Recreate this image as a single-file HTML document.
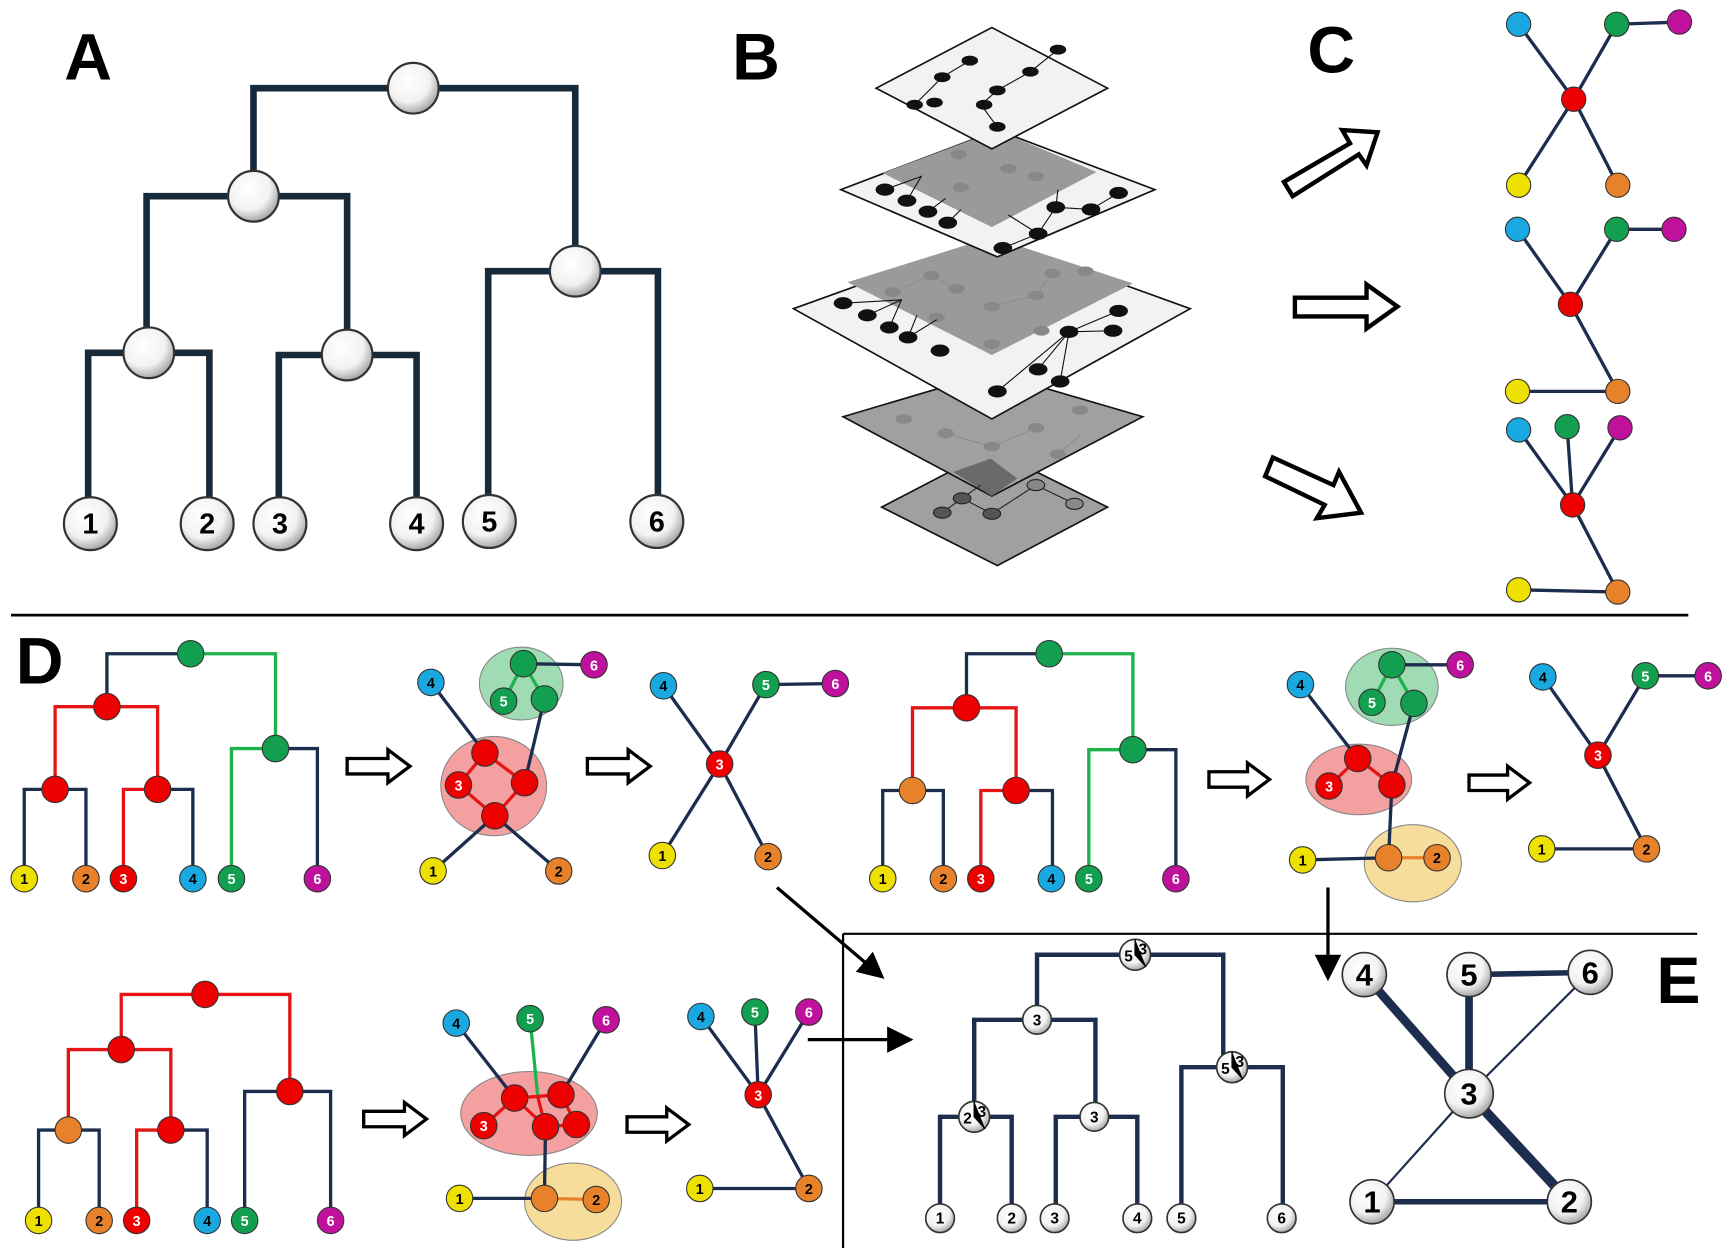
<!DOCTYPE html>
<html><head><meta charset="utf-8"><style>
html,body{margin:0;padding:0;background:#fff;width:1728px;height:1248px;overflow:hidden}
svg{display:block}
text{font-family:"Liberation Sans",sans-serif;font-weight:bold;text-anchor:middle}
</style></head><body>
<svg width="1728" height="1248" viewBox="0 0 1568 1132" preserveAspectRatio="none" xmlns="http://www.w3.org/2000/svg">
<defs>
<radialGradient id="w" cx="0.4" cy="0.35" r="0.7"><stop offset="0" stop-color="#fff"/><stop offset="0.6" stop-color="#f2f2f2"/><stop offset="1" stop-color="#9a9a9a"/></radialGradient>
<marker id="ah" markerWidth="8" markerHeight="8" refX="6" refY="4" orient="auto" markerUnits="strokeWidth"><path d="M0,0 L8,4 L0,8 Z" fill="#000"/></marker>
</defs>

<!-- Panel A -->
<g fill="none" stroke="#172a3a" stroke-width="6">
<path d="M230,178 V80 H522 V246"/>
<path d="M133,320 V178 H315 V322"/>
<path d="M80,475 V320 H190 V475"/>
<path d="M253,475 V322 H378 V475"/>
<path d="M443,473 V246 H597 V473"/>
</g>
<g stroke="#333" stroke-width="2" fill="url(#w)">
<circle cx="375" cy="80" r="23"/><circle cx="230" cy="178" r="23"/><circle cx="135" cy="320" r="23"/><circle cx="315" cy="322" r="23"/><circle cx="522" cy="246" r="23"/>
<circle cx="82" cy="475" r="24"/><circle cx="188" cy="475" r="24"/><circle cx="254" cy="475" r="24"/><circle cx="378" cy="475" r="24"/><circle cx="444" cy="473" r="24"/><circle cx="596" cy="473" r="24"/>
</g>
<g font-size="26" fill="#000">
<text x="82" y="484">1</text><text x="188" y="484">2</text><text x="254" y="484">3</text><text x="378" y="484">4</text><text x="444" y="482">5</text><text x="596" y="482">6</text>
</g>
<g font-size="60" fill="#000"><text x="80" y="72">A</text><text x="686" y="72">B</text><text x="1208" y="66">C</text><text x="36" y="620">D</text><text x="1523" y="910">E</text></g>

<!-- Panel B -->
<g stroke="#111" stroke-width="1.5">
<polygon points="800,460 900,408 1005,460 905,513" fill="#a0a0a0"/>
<polygon points="765,378 900,338 1037,378 900,450" fill="#a0a0a0"/>
<polygon points="865,428 899,416 923,434 900,450" fill="#6a6a6a" stroke="none"/>
<polygon points="720,280 900,215 1080,280 900,380" fill="#f2f2f2"/>
<polygon points="769,256 900,215 1028,257 900,322" fill="#9a9a9a" stroke="none"/>
<polygon points="763,172 905,118 1048,172 905,233" fill="#f2f2f2"/>
<polygon points="801,157 905,118 995,156 900,206" fill="#9a9a9a" stroke="none"/>
<polygon points="795,80 900,25 1005,80 900,135" fill="#f2f2f2"/>
</g>
<g fill="#888" stroke="#888" stroke-width="0.8">
<ellipse cx="870" cy="140" rx="7" ry="4"/><ellipse cx="915" cy="153" rx="7" ry="4"/><ellipse cx="872" cy="170" rx="7" ry="4"/><ellipse cx="940" cy="160" rx="7" ry="4"/>
<ellipse cx="810" cy="265" rx="7" ry="4"/><ellipse cx="845" cy="250" rx="7" ry="4"/><ellipse cx="868" cy="262" rx="7" ry="4"/><ellipse cx="900" cy="278" rx="7" ry="4"/><ellipse cx="940" cy="268" rx="7" ry="4"/><ellipse cx="955" cy="248" rx="7" ry="4"/><ellipse cx="985" cy="246" rx="7" ry="4"/><ellipse cx="850" cy="288" rx="7" ry="4"/><ellipse cx="900" cy="312" rx="7" ry="4"/><ellipse cx="945" cy="300" rx="7" ry="4"/>
<ellipse cx="820" cy="380" rx="7" ry="4"/><ellipse cx="858" cy="393" rx="7" ry="4"/><ellipse cx="900" cy="405" rx="7" ry="4"/><ellipse cx="940" cy="388" rx="7" ry="4"/><ellipse cx="980" cy="372" rx="7" ry="4"/><ellipse cx="960" cy="412" rx="7" ry="4"/>
<path d="M810,265 L845,250 L868,262 M900,278 L940,268 L955,248 M858,393 L900,405 L940,388 M960,412 L980,395" fill="none"/>
</g>
<g fill="#111" stroke="#111" stroke-width="1">
<path d="M830,95 L855,70 L880,55 M905,82 L935,65 M905,82 L890,95 L905,115 M935,65 L960,45" fill="none"/>
<ellipse cx="830" cy="95" rx="7" ry="4"/><ellipse cx="855" cy="70" rx="7" ry="4"/><ellipse cx="880" cy="55" rx="7" ry="4"/><ellipse cx="905" cy="82" rx="7" ry="4"/><ellipse cx="935" cy="65" rx="7" ry="4"/><ellipse cx="960" cy="45" rx="7" ry="4"/><ellipse cx="848" cy="93" rx="7" ry="4"/><ellipse cx="893" cy="95" rx="7" ry="4"/><ellipse cx="905" cy="115" rx="7" ry="4"/>
<ellipse cx="803" cy="172" rx="8" ry="5"/><ellipse cx="823" cy="182" rx="8" ry="5"/><ellipse cx="842" cy="192" rx="8" ry="5"/><ellipse cx="860" cy="202" rx="8" ry="5"/><ellipse cx="910" cy="225" rx="8" ry="5"/><ellipse cx="942" cy="212" rx="8" ry="5"/><ellipse cx="958" cy="188" rx="8" ry="5"/><ellipse cx="990" cy="190" rx="8" ry="5"/><ellipse cx="1015" cy="175" rx="8" ry="5"/>
<path d="M803,172 L836,160 L823,182 M842,192 L858,180 M860,202 L872,190 M910,225 L942,212 L958,188 L990,190 L1015,175 M958,188 L960,172 M942,212 L915,195" fill="none"/>
<ellipse cx="765" cy="275" rx="8" ry="5"/><ellipse cx="787" cy="286" rx="8" ry="5"/><ellipse cx="807" cy="297" rx="8" ry="5"/><ellipse cx="824" cy="306" rx="8" ry="5"/><ellipse cx="853" cy="318" rx="8" ry="5"/><ellipse cx="905" cy="355" rx="8" ry="5"/><ellipse cx="942" cy="335" rx="8" ry="5"/><ellipse cx="970" cy="301" rx="8" ry="5"/><ellipse cx="1010" cy="300" rx="8" ry="5"/><ellipse cx="962" cy="346" rx="8" ry="5"/><ellipse cx="1015" cy="282" rx="8" ry="5"/>
<path d="M765,275 L818,272 L807,297 M787,286 L818,272 M824,306 L850,290 M824,306 L832,286 M942,335 L970,301 L1015,282 M970,301 L1010,300 M905,355 L970,301 L962,346" fill="none"/>
</g>
<g fill="#555" stroke="#222" stroke-width="1">
<path d="M855,465 L873,452 L900,466 L940,440 L975,457 M873,452 L890,440" fill="none"/>
<ellipse cx="855" cy="465" rx="8" ry="5"/><ellipse cx="873" cy="452" rx="8" ry="5"/><ellipse cx="900" cy="466" rx="8" ry="5"/><ellipse cx="940" cy="440" rx="8" ry="5" fill="#888"/><ellipse cx="975" cy="457" rx="8" ry="5" fill="#888"/>
</g>

<!-- Panel C arrows -->
<g fill="#fff" stroke="#000" stroke-width="4" stroke-linejoin="miter">
<polygon points="1165,165 1225,130 1218,118 1250,120 1240,150 1233,140 1173,178" />
<polygon points="1175,270 1240,270 1240,258 1268,278 1240,298 1240,287 1175,287"/>
<polygon points="1155,415 1210,440 1215,428 1235,465 1195,470 1202,458 1148,432"/>
</g>
<g stroke="#1c2d4e" stroke-width="3" fill="none">
<path d="M1378,22 L1428,90 L1467,22 L1524,20 M1378,168 L1428,90 L1468,168"/>
<path d="M1377,208 L1425,276 L1467,208 L1519,208 M1425,276 L1468,355 L1377,355"/>
<path d="M1378,390 L1427,458 L1422,387 M1470,388 L1427,458 L1468,537 L1378,535"/>
</g>
<g stroke="#333" stroke-width="1">
<circle cx="1428" cy="90" r="11" fill="#e00"/><circle cx="1378" cy="22" r="11" fill="#19a8e0"/><circle cx="1467" cy="22" r="11" fill="#12a050"/><circle cx="1524" cy="20" r="11" fill="#c0119c"/><circle cx="1378" cy="168" r="11" fill="#eee000"/><circle cx="1468" cy="168" r="11" fill="#e8822a"/>
<circle cx="1425" cy="276" r="11" fill="#e00"/><circle cx="1377" cy="208" r="11" fill="#19a8e0"/><circle cx="1467" cy="208" r="11" fill="#12a050"/><circle cx="1519" cy="208" r="11" fill="#c0119c"/><circle cx="1377" cy="355" r="11" fill="#eee000"/><circle cx="1468" cy="355" r="11" fill="#e8822a"/>
<circle cx="1427" cy="458" r="11" fill="#e00"/><circle cx="1378" cy="390" r="11" fill="#19a8e0"/><circle cx="1422" cy="387" r="11" fill="#12a050"/><circle cx="1470" cy="388" r="11" fill="#c0119c"/><circle cx="1378" cy="535" r="11" fill="#eee000"/><circle cx="1468" cy="537" r="11" fill="#e8822a"/>
</g>

<line x1="10" y1="558" x2="1532" y2="558" stroke="#000" stroke-width="2.5"/>

<!-- D1 tree -->
<g fill="none" stroke-width="3">
<path d="M97,641 V593 H173" stroke="#1c2d4e"/><path d="M173,593 H250 V679" stroke="#1db34a"/>
<path d="M50,716 V641 H143 V716" stroke="#e51515"/>
<path d="M22,797 V716 H78 V797" stroke="#1c2d4e"/>
<path d="M112,797 V716 H143" stroke="#e51515"/><path d="M143,716 H175 V797" stroke="#1c2d4e"/>
<path d="M210,797 V679 H250" stroke="#1db34a"/><path d="M250,679 H288 V797" stroke="#1c2d4e"/>
</g>
<!-- D2 tree -->
<g fill="none" stroke-width="3">
<path d="M877,642 V593 H952" stroke="#1c2d4e"/><path d="M952,593 H1028 V680" stroke="#1db34a"/>
<path d="M828,717 V642 H922 V717" stroke="#e51515"/>
<path d="M801,797 V717 H856 V797" stroke="#1c2d4e"/>
<path d="M890,797 V717 H922" stroke="#e51515"/><path d="M922,717 H955 V797" stroke="#1c2d4e"/>
<path d="M988,797 V680 H1028" stroke="#1db34a"/><path d="M1028,680 H1067 V797" stroke="#1c2d4e"/>
</g>
<!-- D3 tree -->
<g fill="none" stroke-width="3">
<path d="M110,952 V902 H263 V990" stroke="#e51515"/>
<path d="M62,1025 V952 H155 V1025" stroke="#e51515"/>
<path d="M35,1107 V1025 H90 V1107" stroke="#1c2d4e"/>
<path d="M124,1107 V1025 H155" stroke="#e51515"/><path d="M155,1025 H188 V1107" stroke="#1c2d4e"/>
<path d="M222,1107 V990 H300 V1107" stroke="#1c2d4e"/>
</g>
<g stroke="#333" stroke-width="1">
<circle cx="173" cy="593" r="12" fill="#12a050"/><circle cx="97" cy="641" r="12" fill="#e00"/><circle cx="50" cy="716" r="12" fill="#e00"/><circle cx="143" cy="716" r="12" fill="#e00"/><circle cx="250" cy="679" r="12" fill="#12a050"/>
<circle cx="952" cy="593" r="12" fill="#12a050"/><circle cx="877" cy="642" r="12" fill="#e00"/><circle cx="828" cy="717" r="12" fill="#e8822a"/><circle cx="922" cy="717" r="12" fill="#e00"/><circle cx="1028" cy="680" r="12" fill="#12a050"/>
<circle cx="186" cy="902" r="12" fill="#e00"/><circle cx="110" cy="952" r="12" fill="#e00"/><circle cx="62" cy="1025" r="12" fill="#e8822a"/><circle cx="155" cy="1025" r="12" fill="#e00"/><circle cx="263" cy="990" r="12" fill="#e00"/>
</g>

<!-- outline arrows D -->
<g fill="#fff" stroke="#000" stroke-width="3">
<polygon points="315,688 352,688 352,680 372,695 352,710 352,702 315,702"/>
<polygon points="533,688 570,688 570,680 590,695 570,710 570,702 533,702"/>
<polygon points="1097,700 1132,700 1132,692 1152,707 1132,722 1132,714 1097,714"/>
<polygon points="1333,703 1368,703 1368,695 1388,710 1368,725 1368,717 1333,717"/>
<polygon points="330,1008 367,1008 367,1000 387,1015 367,1030 367,1022 330,1022"/>
<polygon points="569,1013 605,1013 605,1005 625,1020 605,1035 605,1027 569,1027"/>
</g>

<!-- ellipses -->
<g stroke="#888" stroke-width="1">
<ellipse cx="448" cy="713" rx="48" ry="45" fill="#f08080" fill-opacity="0.75"/>
<ellipse cx="473" cy="620" rx="38" ry="33" fill="#7fcf9a" fill-opacity="0.75"/>
<ellipse cx="1263" cy="623" rx="42" ry="35" fill="#7fcf9a" fill-opacity="0.75"/>
<ellipse cx="1233" cy="707" rx="48" ry="32" fill="#f08080" fill-opacity="0.75"/>
<ellipse cx="1282" cy="783" rx="44" ry="35" fill="#f3d27a" fill-opacity="0.75"/>
<ellipse cx="480" cy="1010" rx="62" ry="38" fill="#f08080" fill-opacity="0.75"/>
<ellipse cx="520" cy="1090" rx="44" ry="35" fill="#f3d27a" fill-opacity="0.75"/>
</g>

<!-- network edges -->
<g fill="none" stroke-width="3">
<path d="M391,619 L440,683 M476,710 L494,634 M393,790 L449,740 L507,790" stroke="#1c2d4e"/>
<path d="M475,602 L539,603" stroke="#1c2d4e"/>
<path d="M457,636 L475,602 L494,634" stroke="#1db34a"/>
<path d="M440,683 L476,710 L449,740 L416,712 Z" stroke="#e51515"/>
<path d="M602,622 L653,693 L695,621 L758,620 M601,776 L653,693 L697,777" stroke="#1c2d4e"/>
<path d="M1180,621 L1232,688 M1263,712 L1283,638 M1263,712 L1260,778 M1182,780 L1260,778 M1263,603 L1325,603" stroke="#1c2d4e"/>
<path d="M1245,637 L1263,603 L1283,638" stroke="#1db34a"/>
<path d="M1232,688 L1263,712 M1232,688 L1206,713" stroke="#e51515"/>
<path d="M1260,778 L1304,778" stroke="#e8822a"/>
<path d="M1400,614 L1450,685 L1493,613 L1550,613 M1450,685 L1494,770 L1399,770" stroke="#1c2d4e"/>
<path d="M414,928 L467,996 M550,925 L509,993 M495,1022 L494,1087 M417,1087 L494,1087" stroke="#1c2d4e"/>
<path d="M481,924 L488,995" stroke="#1db34a"/>
<path d="M467,996 L509,993 L523,1020 L495,1022 L467,996 L439,1021 M488,995 L495,1022" stroke="#e51515"/>
<path d="M494,1087 L541,1088" stroke="#e8822a"/>
<path d="M636,922 L688,993 L685,918 M734,918 L688,993 L734,1078 L635,1078" stroke="#1c2d4e"/>
</g>
<g stroke="#333" stroke-width="1">
<circle cx="440" cy="683" r="12" fill="#e00"/><circle cx="476" cy="710" r="12" fill="#e00"/><circle cx="449" cy="740" r="12" fill="#e00"/><circle cx="416" cy="712" r="12" fill="#e00"/>
<circle cx="475" cy="602" r="12" fill="#12a050"/><circle cx="457" cy="636" r="12" fill="#12a050"/><circle cx="494" cy="634" r="12" fill="#12a050"/>
<circle cx="391" cy="619" r="12" fill="#19a8e0"/><circle cx="539" cy="603" r="12" fill="#c0119c"/><circle cx="393" cy="790" r="12" fill="#eee000"/><circle cx="507" cy="790" r="12" fill="#e8822a"/>
<circle cx="653" cy="693" r="12" fill="#e00"/><circle cx="602" cy="622" r="12" fill="#19a8e0"/><circle cx="695" cy="621" r="12" fill="#12a050"/><circle cx="758" cy="620" r="12" fill="#c0119c"/><circle cx="601" cy="776" r="12" fill="#eee000"/><circle cx="697" cy="777" r="12" fill="#e8822a"/>
<circle cx="1263" cy="603" r="12" fill="#12a050"/><circle cx="1245" cy="637" r="12" fill="#12a050"/><circle cx="1283" cy="638" r="12" fill="#12a050"/>
<circle cx="1232" cy="688" r="12" fill="#e00"/><circle cx="1206" cy="713" r="12" fill="#e00"/><circle cx="1263" cy="712" r="12" fill="#e00"/>
<circle cx="1180" cy="621" r="12" fill="#19a8e0"/><circle cx="1325" cy="603" r="12" fill="#c0119c"/><circle cx="1182" cy="780" r="12" fill="#eee000"/><circle cx="1260" cy="778" r="12" fill="#e8822a"/><circle cx="1304" cy="778" r="12" fill="#e8822a"/>
<circle cx="1450" cy="685" r="12" fill="#e00"/><circle cx="1400" cy="614" r="12" fill="#19a8e0"/><circle cx="1493" cy="613" r="12" fill="#12a050"/><circle cx="1550" cy="613" r="12" fill="#c0119c"/><circle cx="1399" cy="770" r="12" fill="#eee000"/><circle cx="1494" cy="770" r="12" fill="#e8822a"/>
<circle cx="467" cy="996" r="12" fill="#e00"/><circle cx="509" cy="993" r="12" fill="#e00"/><circle cx="523" cy="1020" r="12" fill="#e00"/><circle cx="495" cy="1022" r="12" fill="#e00"/><circle cx="439" cy="1021" r="12" fill="#e00"/>
<circle cx="414" cy="928" r="12" fill="#19a8e0"/><circle cx="481" cy="924" r="12" fill="#12a050"/><circle cx="550" cy="925" r="12" fill="#c0119c"/><circle cx="417" cy="1087" r="12" fill="#eee000"/><circle cx="494" cy="1087" r="12" fill="#e8822a"/><circle cx="541" cy="1088" r="12" fill="#e8822a"/>
<circle cx="688" cy="993" r="12" fill="#e00"/><circle cx="636" cy="922" r="12" fill="#19a8e0"/><circle cx="685" cy="918" r="12" fill="#12a050"/><circle cx="734" cy="918" r="12" fill="#c0119c"/><circle cx="635" cy="1078" r="12" fill="#eee000"/><circle cx="734" cy="1078" r="12" fill="#e8822a"/>
<circle cx="22" cy="797" r="12" fill="#eee000"/><circle cx="78" cy="797" r="12" fill="#e8822a"/><circle cx="112" cy="797" r="12" fill="#e00"/><circle cx="175" cy="797" r="12" fill="#19a8e0"/><circle cx="210" cy="797" r="12" fill="#12a050"/><circle cx="288" cy="797" r="12" fill="#c0119c"/>
<circle cx="801" cy="797" r="12" fill="#eee000"/><circle cx="856" cy="797" r="12" fill="#e8822a"/><circle cx="890" cy="797" r="12" fill="#e00"/><circle cx="954" cy="797" r="12" fill="#19a8e0"/><circle cx="988" cy="797" r="12" fill="#12a050"/><circle cx="1067" cy="797" r="12" fill="#c0119c"/>
<circle cx="35" cy="1107" r="12" fill="#eee000"/><circle cx="90" cy="1107" r="12" fill="#e8822a"/><circle cx="124" cy="1107" r="12" fill="#e00"/><circle cx="188" cy="1107" r="12" fill="#19a8e0"/><circle cx="222" cy="1107" r="12" fill="#12a050"/><circle cx="300" cy="1107" r="12" fill="#c0119c"/>
</g>
<g font-size="13">
<text x="22" y="802">1</text><text x="78" y="802">2</text><text x="112" y="802" fill="#fff">3</text><text x="175" y="802">4</text><text x="210" y="802" fill="#fff">5</text><text x="288" y="802" fill="#fff">6</text>
<text x="801" y="802">1</text><text x="856" y="802">2</text><text x="890" y="802" fill="#fff">3</text><text x="954" y="802">4</text><text x="988" y="802" fill="#fff">5</text><text x="1067" y="802" fill="#fff">6</text>
<text x="35" y="1112">1</text><text x="90" y="1112">2</text><text x="124" y="1112" fill="#fff">3</text><text x="188" y="1112">4</text><text x="222" y="1112" fill="#fff">5</text><text x="300" y="1112" fill="#fff">6</text>
<text x="391" y="624">4</text><text x="539" y="608" fill="#fff">6</text><text x="457" y="641" fill="#fff">5</text><text x="416" y="717" fill="#fff">3</text><text x="393" y="795">1</text><text x="507" y="795">2</text>
<text x="653" y="698" fill="#fff">3</text><text x="602" y="627">4</text><text x="695" y="626" fill="#fff">5</text><text x="758" y="625" fill="#fff">6</text><text x="601" y="781">1</text><text x="697" y="782">2</text>
<text x="1180" y="626">4</text><text x="1325" y="608" fill="#fff">6</text><text x="1245" y="642" fill="#fff">5</text><text x="1206" y="718" fill="#fff">3</text><text x="1182" y="785">1</text><text x="1304" y="783">2</text>
<text x="1450" y="690" fill="#fff">3</text><text x="1400" y="619">4</text><text x="1493" y="618" fill="#fff">5</text><text x="1550" y="618" fill="#fff">6</text><text x="1399" y="775">1</text><text x="1494" y="775">2</text>
<text x="414" y="933">4</text><text x="481" y="929" fill="#fff">5</text><text x="550" y="930" fill="#fff">6</text><text x="439" y="1026" fill="#fff">3</text><text x="417" y="1092">1</text><text x="541" y="1093">2</text>
<text x="688" y="998" fill="#fff">3</text><text x="636" y="927">4</text><text x="685" y="923" fill="#fff">5</text><text x="734" y="923" fill="#fff">6</text><text x="635" y="1083">1</text><text x="734" y="1083">2</text>
</g>

<!-- black arrows and separators -->
<g stroke="#000" stroke-width="3" fill="none">
<line x1="705" y1="805" x2="798" y2="884" marker-end="url(#ah)"/>
<line x1="1205" y1="805" x2="1205" y2="884" marker-end="url(#ah)"/>
<line x1="733" y1="943" x2="823" y2="943" marker-end="url(#ah)"/>
</g>
<line x1="765" y1="847" x2="1540" y2="847" stroke="#000" stroke-width="2"/>
<line x1="765" y1="847" x2="765" y2="1132" stroke="#000" stroke-width="2"/>

<!-- Panel E tree -->
<g fill="none" stroke="#1c2d4e" stroke-width="4">
<path d="M941,925 V866 H1110 V968"/>
<path d="M884,1013 V925 H994 V1013"/>
<path d="M853,1105 V1013 H918 V1105"/>
<path d="M958,1105 V1013 H1032 V1105"/>
<path d="M1072,1105 V968 H1164 V1105"/>
</g>
<g stroke="#333" stroke-width="1.5" fill="url(#w)">
<circle cx="1030" cy="866" r="14"/><circle cx="941" cy="925" r="13"/><circle cx="1118" cy="968" r="14"/><circle cx="884" cy="1013" r="14"/><circle cx="993" cy="1013" r="13"/>
<circle cx="853" cy="1105" r="13"/><circle cx="918" cy="1105" r="13"/><circle cx="957" cy="1105" r="13"/><circle cx="1032" cy="1105" r="13"/><circle cx="1072" cy="1105" r="13"/><circle cx="1163" cy="1105" r="13"/>
</g>
<g stroke="#000" stroke-width="1.2"><path d="M1030,852 V866 L1040,877 M1118,954 V968 L1128,979 M884,999 V1013 L894,1024"/></g>
<g font-size="14">
<text x="941" y="930">3</text><text x="993" y="1018">3</text>
<text x="1024" y="872">5</text><text x="1037" y="866">3</text>
<text x="1112" y="974">5</text><text x="1125" y="968">3</text>
<text x="878" y="1019">2</text><text x="891" y="1013">3</text>
<text x="853" y="1110">1</text><text x="918" y="1110">2</text><text x="957" y="1110">3</text><text x="1032" y="1110">4</text><text x="1072" y="1110">5</text><text x="1163" y="1110">6</text>
</g>
<!-- Panel E network -->
<g stroke="#1c2d4e" stroke-linecap="round">
<line x1="1238" y1="884" x2="1333" y2="992" stroke-width="8"/>
<line x1="1333" y1="884" x2="1333" y2="992" stroke-width="7"/>
<line x1="1333" y1="884" x2="1443" y2="882" stroke-width="5"/>
<line x1="1443" y1="882" x2="1333" y2="992" stroke-width="2"/>
<line x1="1333" y1="992" x2="1424" y2="1090" stroke-width="9"/>
<line x1="1333" y1="992" x2="1245" y2="1090" stroke-width="2"/>
<line x1="1245" y1="1090" x2="1424" y2="1090" stroke-width="5"/>
</g>
<g stroke="#333" stroke-width="1.5" fill="url(#w)">
<circle cx="1238" cy="884" r="20"/><circle cx="1333" cy="884" r="20"/><circle cx="1443" cy="882" r="20"/><circle cx="1333" cy="992" r="22"/><circle cx="1245" cy="1090" r="20"/><circle cx="1424" cy="1090" r="20"/>
</g>
<g font-size="28">
<text x="1238" y="894">4</text><text x="1333" y="894">5</text><text x="1443" y="892">6</text><text x="1333" y="1002">3</text><text x="1245" y="1100">1</text><text x="1424" y="1100">2</text>
</g>
</svg>
</body></html>
